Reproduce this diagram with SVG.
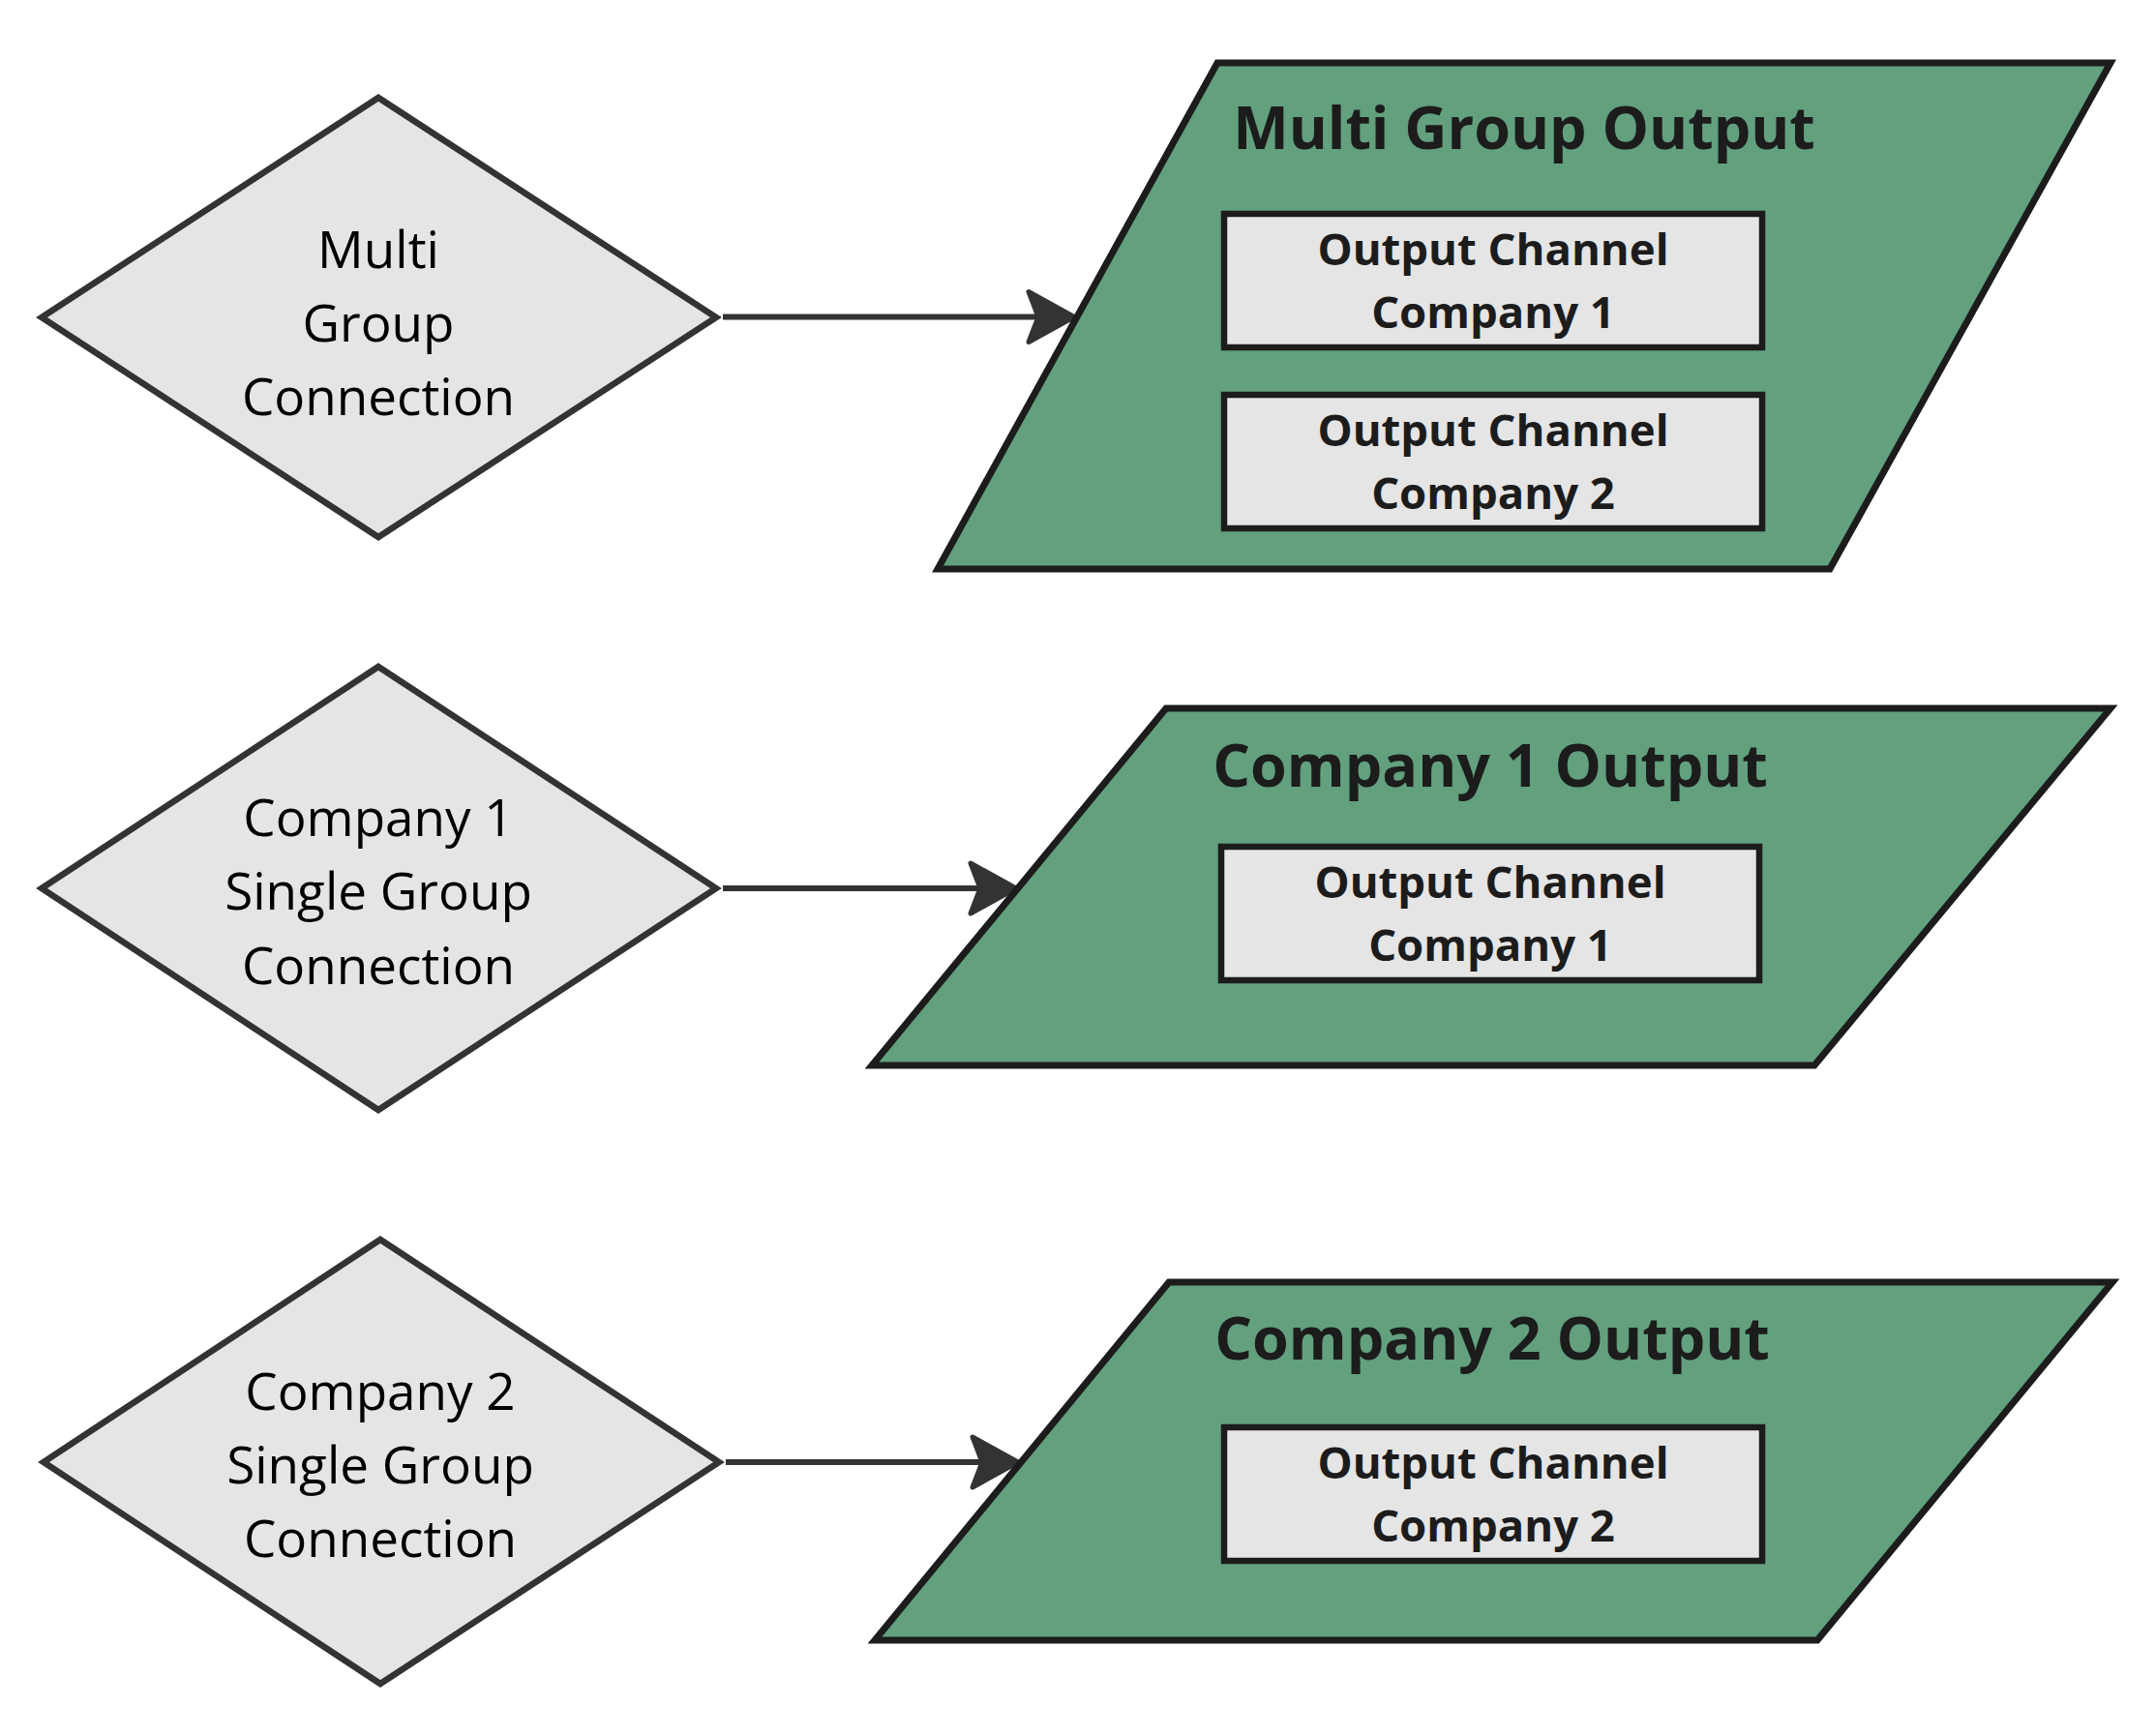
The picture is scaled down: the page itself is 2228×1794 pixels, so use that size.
<svg xmlns="http://www.w3.org/2000/svg" width="2228" height="1794" viewBox="0 0 2228 1794">
<style>
.dia{fill:#e5e5e5;stroke:#333333;stroke-width:6.5;stroke-linejoin:miter}
.dtxt{font-family:"Open Sans","Noto Sans",sans-serif;font-size:53px;fill:#000000;text-anchor:middle}
.para{fill:#62a07e;stroke:#1c1c1c;stroke-width:7;stroke-linejoin:miter}
.title{font-family:"Open Sans","Noto Sans",sans-serif;font-size:61px;font-weight:bold;fill:#1c1c1c;text-anchor:middle}
.box{fill:#e5e5e5;stroke:#1c1c1c;stroke-width:6.5}
.btxt{font-family:"Open Sans","Noto Sans",sans-serif;font-size:45.5px;font-weight:bold;fill:#1c1c1c;text-anchor:middle}
.conn{stroke:#333333;stroke-width:6;fill:none}
</style>
<defs>
<marker id="arrow" markerUnits="userSpaceOnUse" viewBox="-30 -40 80 80" refX="0" refY="0" markerWidth="80" markerHeight="80" orient="auto">
<path d="M-16,-26 L31,0 L-16,26 L-6,0 Z" fill="#333333" stroke="#333333" stroke-width="5" stroke-linejoin="round"/>
</marker>
</defs>
<rect x="0" y="0" width="2228" height="1794" fill="#ffffff"/>

<g id="connectors">
<line class="conn" x1="747" y1="327.5" x2="1079" y2="327.5" marker-end="url(#arrow)"/>
<line class="conn" x1="747" y1="918" x2="1019" y2="918" marker-end="url(#arrow)"/>
<line class="conn" x1="750" y1="1511" x2="1021" y2="1511" marker-end="url(#arrow)"/>
</g>

<g id="multi-group-connection">
<polygon class="dia" points="43,328 391,101 740,328 391,555"/>
<text class="dtxt" x="391" y="277">Multi</text>
<text class="dtxt" x="391" y="353">Group</text>
<text class="dtxt" x="391" y="429">Connection</text>
</g>

<g id="company1-single-group-connection">
<polygon class="dia" points="43,918 391,689 740,918 391,1147"/>
<text class="dtxt" x="391" y="864">Company 1</text>
<text class="dtxt" x="391" y="940">Single Group</text>
<text class="dtxt" x="391" y="1017">Connection</text>
</g>

<g id="company2-single-group-connection">
<polygon class="dia" points="45,1511 393,1281 743,1511 393,1740"/>
<text class="dtxt" x="393" y="1457">Company 2</text>
<text class="dtxt" x="393" y="1533">Single Group</text>
<text class="dtxt" x="393" y="1609">Connection</text>
</g>

<g id="multi-group-output">
<polygon class="para" points="1258,65 2181,65 1891,588 969,588"/>
<text class="title" x="1575" y="154">Multi Group Output</text>
<g id="mg-channel-company1">
<rect class="box" x="1265" y="221" width="556" height="138"/>
<text class="btxt" x="1543" y="274">Output Channel</text>
<text class="btxt" x="1543" y="339">Company 1</text>
</g>
<g id="mg-channel-company2">
<rect class="box" x="1265" y="408" width="556" height="138"/>
<text class="btxt" x="1543" y="461">Output Channel</text>
<text class="btxt" x="1543" y="526">Company 2</text>
</g>
</g>

<g id="company1-output">
<polygon class="para" points="1205,732 2181,732 1875,1101 901,1101"/>
<text class="title" x="1540" y="813">Company 1 Output</text>
<g id="c1-channel-company1">
<rect class="box" x="1262" y="875" width="556" height="138"/>
<text class="btxt" x="1540" y="928">Output Channel</text>
<text class="btxt" x="1540" y="993">Company 1</text>
</g>
</g>

<g id="company2-output">
<polygon class="para" points="1208,1325 2183,1325 1878,1695 904,1695"/>
<text class="title" x="1542" y="1405">Company 2 Output</text>
<g id="c2-channel-company2">
<rect class="box" x="1265" y="1475" width="556" height="138"/>
<text class="btxt" x="1543" y="1528">Output Channel</text>
<text class="btxt" x="1543" y="1593">Company 2</text>
</g>
</g>
</svg>
